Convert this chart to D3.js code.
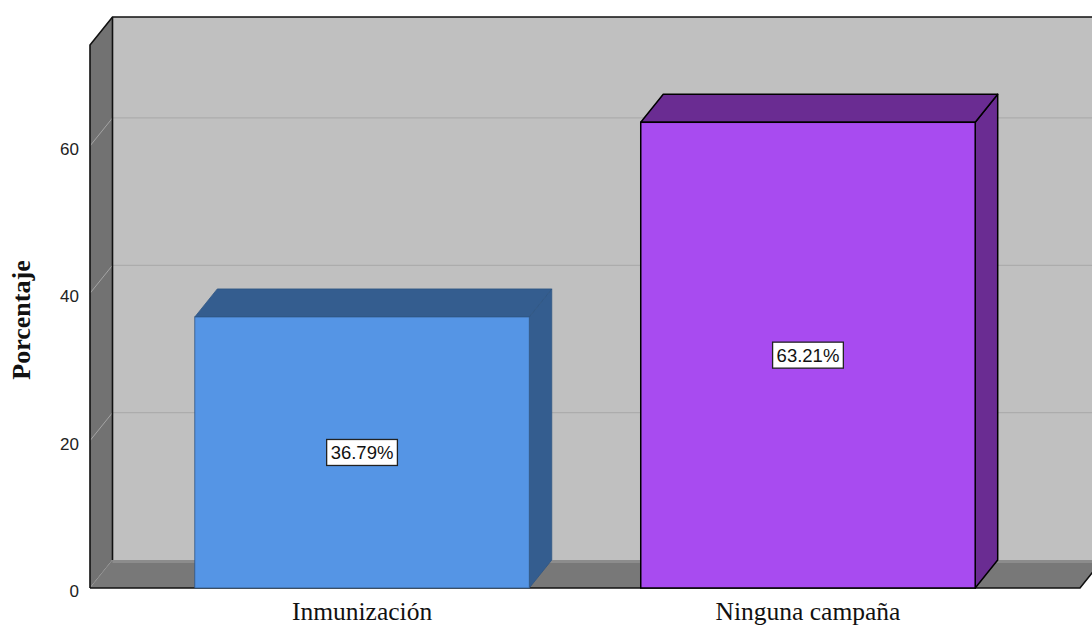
<!DOCTYPE html>
<html><head><meta charset="utf-8">
<script src="https://cdn.jsdelivr.net/npm/d3@7"></script>
<style>body{margin:0;background:#fff}svg{display:block}</style>
</head><body>
<svg id="c" width="1092" height="626"></svg>
<script>
const categories = ["Inmunización", "Ninguna campaña"];
const values = [36.79, 63.21];
const valueLabels = ["36.79%", "63.21%"];
const tickValues = [0, 20, 40, 60];
const frontColors = ["#5595e5", "#a84bf0"];
const darkColors = ["#345d8f", "#6a2c92"];
const outlineColors = ["#2f5583", "#000000"];

(function () {
const svg = d3.select("#c");
const W = 1092;
const pL = 90, pR = 1080, pB = 588, pT = 45;
const dx = 22.5, dy = -28;

const y = d3.scaleLinear().domain([0, 73.7]).range([pB, pT]);
const x = d3.scaleBand().domain(categories).range([pL, pR]).paddingInner(0.25).paddingOuter(0.235);

const poly = pts => "M" + pts.map(p => p.join(",")).join("L") + "Z";

// back wall
svg.append("rect").attr("x", pL + dx).attr("y", pT + dy)
  .attr("width", W - pL - dx + 20).attr("height", pB - pT)
  .attr("fill", "#c0c0c0");
svg.selectAll(".grid").data(tickValues.filter(v => v > 0)).enter().append("line")
  .attr("x1", pL + dx).attr("x2", W)
  .attr("y1", d => y(d) + dy).attr("y2", d => y(d) + dy)
  .attr("stroke", "#acacac").attr("stroke-width", 1.2);
// left wall
svg.append("path").attr("d", poly([[pL, pT], [pL + dx, pT + dy], [pL + dx, pB + dy], [pL, pB]]))
  .attr("fill", "#727272");
svg.selectAll(".lgrid").data(tickValues).enter().append("line")
  .attr("x1", pL).attr("y1", d => y(d)).attr("x2", pL + dx).attr("y2", d => y(d) + dy)
  .attr("stroke", "#a4a4a4").attr("stroke-width", 1);
// floor
svg.append("path").attr("d", poly([[pL, pB], [pL + dx, pB + dy], [pR + dx, pB + dy], [pR, pB]]))
  .attr("fill", "#787878");
svg.append("line").attr("x1", pL + dx).attr("x2", W).attr("y1", pB + dy + 1.5).attr("y2", pB + dy + 1.5)
  .attr("stroke", "#8c8c8c").attr("stroke-width", 3);

// frame edges
const edge = svg.append("g").attr("fill", "none").attr("stroke", "#111").attr("stroke-width", 1.6);
edge.append("path").attr("d", `M${pL},${pB}L${pL},${pT}L${pL + dx},${pT + dy}L${W + 5},${pT + dy}`);
edge.append("path").attr("d", `M${pL + dx},${pT + dy}L${pL + dx},${pB + dy}`);
edge.append("path").attr("d", `M${pL},${pB}L${pR},${pB}L${pR + dx},${pB + dy}`);

// bars
const bars = svg.selectAll(".bar").data(categories).enter().append("g");
bars.each(function (c, i) {
  const g = d3.select(this);
  const x0 = x(c), x1 = x(c) + x.bandwidth(), yt = y(values[i]), yb = y(0);
  const sw = i === 1 ? 1.5 : 0.8;
  g.append("path").attr("d", poly([[x1, yt], [x1 + dx, yt + dy], [x1 + dx, yb + dy], [x1, yb]]))
    .attr("fill", darkColors[i]).attr("stroke", outlineColors[i]).attr("stroke-width", sw).attr("stroke-linejoin", "round");
  g.append("path").attr("d", poly([[x0, yt], [x0 + dx, yt + dy], [x1 + dx, yt + dy], [x1, yt]]))
    .attr("fill", darkColors[i]).attr("stroke", outlineColors[i]).attr("stroke-width", sw).attr("stroke-linejoin", "round");
  g.append("rect").attr("x", x0).attr("y", yt).attr("width", x1 - x0).attr("height", yb - yt)
    .attr("fill", frontColors[i]).attr("stroke", outlineColors[i]).attr("stroke-width", sw);
  const cx = x0 + x.bandwidth() / 2, cy = (yt + yb) / 2;
  const t = g.append("text").attr("x", cx).attr("y", cy + 6.5).attr("text-anchor", "middle")
    .attr("font-family", "Liberation Sans, Arial, sans-serif").attr("font-size", 18.5).attr("fill", "#111")
    .text(valueLabels[i]);
  const w = t.node().getComputedTextLength();
  g.insert("rect", "text").attr("x", cx - w / 2 - 4).attr("y", cy - 13).attr("width", w + 8).attr("height", 26)
    .attr("fill", "#fff").attr("stroke", "#222").attr("stroke-width", 1.3);
});

// y axis
const yAxis = d3.axisLeft(y).tickValues(tickValues).tickSize(0).tickPadding(11).tickFormat(d3.format("d"));
const ya = svg.append("g").attr("transform", `translate(${pL},0)`).call(yAxis);
ya.select(".domain").remove();
ya.selectAll("text").attr("font-family", "Liberation Sans, Arial, sans-serif").attr("font-size", 17)
  .attr("fill", "#222").attr("dy", "0.5em");

// x axis labels
const xAxis = d3.axisBottom(x).tickSize(0).tickPadding(8);
const xa = svg.append("g").attr("transform", `translate(0,${pB})`).call(xAxis);
xa.select(".domain").remove();
xa.selectAll("text").attr("font-family", "Liberation Serif, Times New Roman, serif").attr("font-size", 25.5)
  .attr("fill", "#111").attr("dy", "0.95em");

// y title
svg.append("text").attr("transform", `translate(30,320) rotate(-90)`).attr("text-anchor", "middle")
  .attr("font-family", "Liberation Serif, Times New Roman, serif").attr("font-weight", "bold").attr("font-size", 26)
  .attr("fill", "#111").text("Porcentaje");
})();
</script>
</body></html>
